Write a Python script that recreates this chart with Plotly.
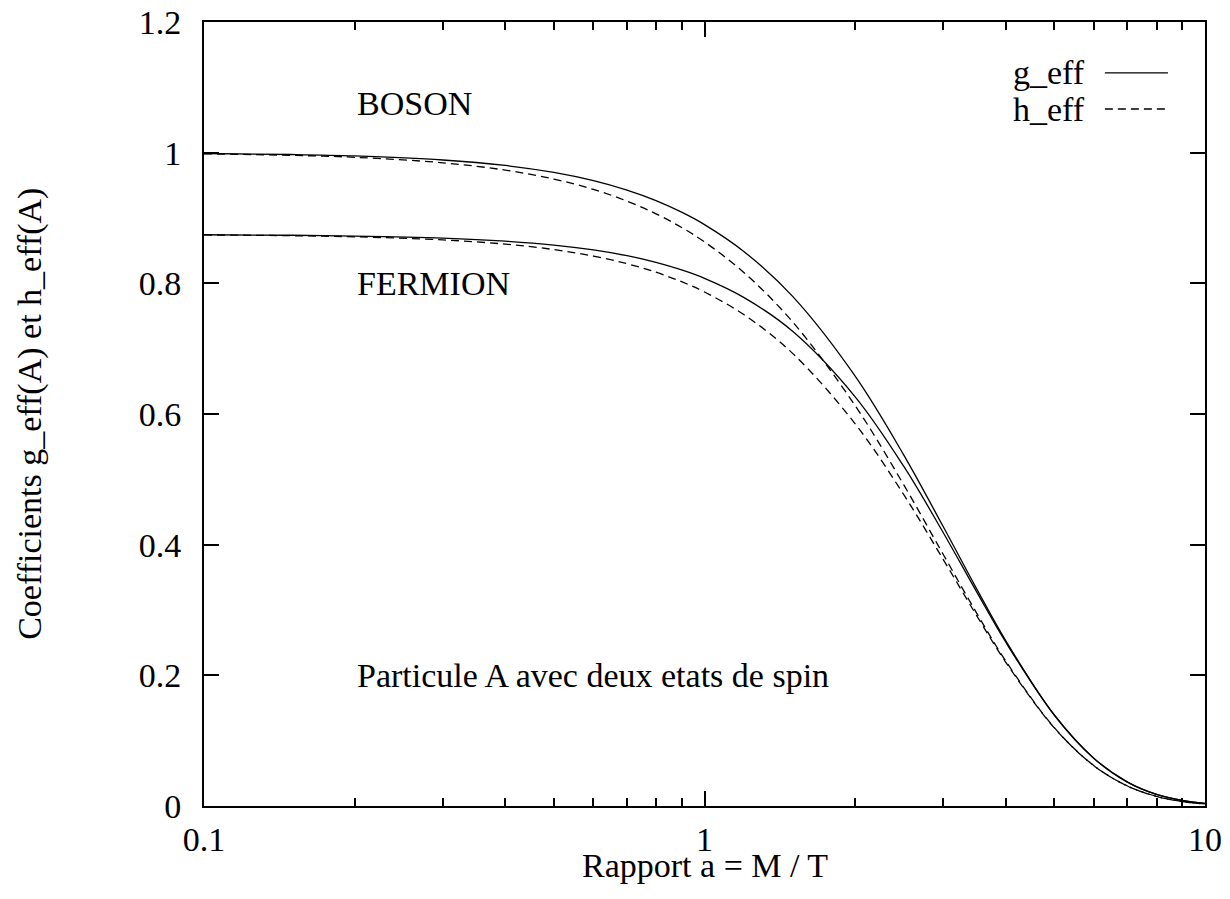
import math
import plotly.graph_objects as go

# ---- data ----
a_ratio = [0.1, 0.15, 0.2, 0.3, 0.4, 0.5, 0.6, 0.7, 0.8, 0.9, 1.0, 1.2, 1.5,
           2.0, 2.5, 3.0, 3.5, 4.0, 5.0, 6.0, 7.0, 8.0, 9.0, 10.0]
g_boson = [0.9987, 0.9972, 0.9950, 0.9888, 0.9804, 0.9698, 0.9572, 0.9427, 0.9266,
           0.9089, 0.8899, 0.8484, 0.7800, 0.6579, 0.5375, 0.4274, 0.3320, 0.2528,
           0.1394, 0.0729, 0.0366, 0.0177, 0.0084, 0.0039]
h_boson = [0.9982, 0.9959, 0.9929, 0.9845, 0.9733, 0.9596, 0.9437, 0.9259, 0.9064,
           0.8855, 0.8634, 0.8162, 0.7410, 0.6128, 0.4918, 0.3849, 0.2949, 0.2218,
           0.1199, 0.0617, 0.0306, 0.0147, 0.0069, 0.0032]
g_fermion = [0.8744, 0.8736, 0.8724, 0.8692, 0.8646, 0.8586, 0.8511, 0.8423, 0.8321,
             0.8205, 0.8077, 0.7782, 0.7266, 0.6263, 0.5201, 0.4183, 0.3274, 0.2506,
             0.1389, 0.0728, 0.0365, 0.0177, 0.0084, 0.0039]
h_fermion = [0.8741, 0.8729, 0.8712, 0.8665, 0.8600, 0.8517, 0.8417, 0.8301, 0.8170,
             0.8025, 0.7868, 0.7518, 0.6928, 0.5850, 0.4768, 0.3772, 0.2911, 0.2200,
             0.1195, 0.0616, 0.0305, 0.0147, 0.0069, 0.0032]

x_tick_vals = [0.1, 1, 10]
x_tick_text = ["0.1", "1", "10"]
x_minor_vals = [0.2, 0.3, 0.4, 0.5, 0.6, 0.7, 0.8, 0.9, 2, 3, 4, 5, 6, 7, 8, 9]
y_tick_vals = [0, 0.2, 0.4, 0.6, 0.8, 1.0, 1.2]
y_tick_text = ["0", "0.2", "0.4", "0.6", "0.8", "1", "1.2"]

legend_labels = ["g_eff", "h_eff"]
x_title = "Rapport a = M / T"
y_title = "Coefficients g_eff(A) et h_eff(A)"
labels = [("BOSON", 0.2, 1.075), ("FERMION", 0.2, 0.8),
          ("Particule A avec deux etats de spin", 0.2, 0.2)]

FONT = "Liberation Serif, Times New Roman, serif"
FS = 34
solid = dict(color="black", width=1.3)
dashed = dict(color="black", width=1.3, dash="8px,5px")

fig = go.Figure()
fig.add_trace(go.Scatter(x=a_ratio, y=g_boson, mode="lines", line=solid,
                         line_shape="spline", showlegend=False))
fig.add_trace(go.Scatter(x=a_ratio, y=h_boson, mode="lines", line=dashed,
                         line_shape="spline", showlegend=False))
fig.add_trace(go.Scatter(x=a_ratio, y=g_fermion, mode="lines", line=solid,
                         line_shape="spline", showlegend=False))
fig.add_trace(go.Scatter(x=a_ratio, y=h_fermion, mode="lines", line=dashed,
                         line_shape="spline", showlegend=False))

axis_common = dict(showline=True, linecolor="black", linewidth=2, mirror="ticks",
                   ticks="inside", tickcolor="black", tickwidth=2, ticklen=15,
                   showgrid=False, zeroline=False, automargin=False,
                   tickfont=dict(family=FONT, size=FS, color="black"))

fig.update_xaxes(type="log", range=[-1, 1], tickvals=x_tick_vals, ticktext=x_tick_text,
                 minor=dict(tickvals=x_minor_vals, ticks="inside", ticklen=8,
                            tickwidth=2, tickcolor="black", showgrid=False),
                 ticklabelstandoff=2, **axis_common)
fig.update_yaxes(range=[0, 1.2], tickvals=y_tick_vals, ticktext=y_tick_text,
                 ticklabelstandoff=14, **axis_common)

annotations = []
for txt, xv, yv in labels:
    annotations.append(dict(text=txt, x=math.log10(xv), y=yv, xref="x", yref="y",
                            showarrow=False, xanchor="left", yanchor="middle",
                            font=dict(family=FONT, size=FS, color="black")))
# axis titles
annotations.append(dict(text=x_title, x=0.5, y=-0.076, xref="paper", yref="paper",
                        showarrow=False, xanchor="center", yanchor="middle",
                        font=dict(family=FONT, size=FS, color="black")))
annotations.append(dict(text=y_title, x=-0.174, y=0.5, xref="paper", yref="paper",
                        showarrow=False, xanchor="center", yanchor="middle", textangle=-90,
                        font=dict(family=FONT, size=FS, color="black")))
# custom legend (text left, sample right, as in gnuplot)
leg_y = [0.935, 0.889]
for lab, yy in zip(legend_labels, leg_y):
    annotations.append(dict(text=lab, x=0.882, y=yy, xref="paper", yref="paper",
                            showarrow=False, xanchor="right", yanchor="middle",
                            font=dict(family=FONT, size=FS, color="black")))
shapes = [
    dict(type="line", xref="paper", yref="paper", x0=0.900, x1=0.963,
         y0=leg_y[0], y1=leg_y[0], line=solid),
    dict(type="line", xref="paper", yref="paper", x0=0.900, x1=0.963,
         y0=leg_y[1], y1=leg_y[1], line=dashed),
]

fig.update_layout(width=1230, height=899, margin=dict(l=204, r=25, t=22, b=93),
                  paper_bgcolor="white", plot_bgcolor="white",
                  annotations=annotations, shapes=shapes,
                  font=dict(family=FONT, size=FS, color="black"))

fig.write_html("out.html")
